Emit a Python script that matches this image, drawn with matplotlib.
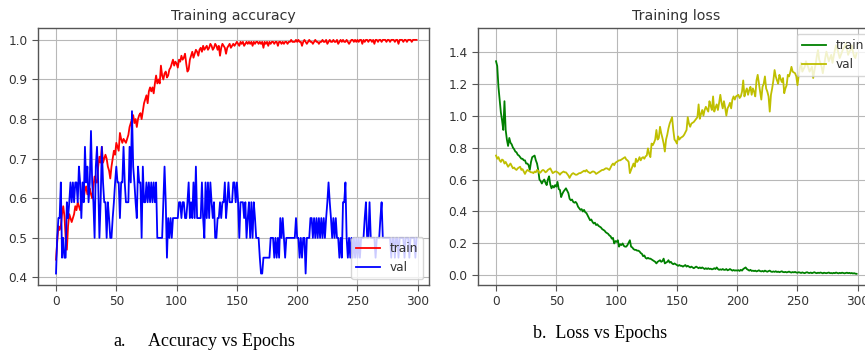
#!/usr/bin/env python3
# -*- coding: utf-8 -*-
"""
Training curves (accuracy / loss) for 300 epochs, train vs val.
"""

import numpy as np
import matplotlib
matplotlib.use("Agg")
import matplotlib.pyplot as plt

# =======================
# DATA
# =======================
train_acc = [
    0.445, 0.49, 0.53, 0.52, 0.53, 0.56, 0.58, 0.555, 0.50, 0.47,
    0.53, 0.56, 0.55, 0.54, 0.55, 0.56, 0.58, 0.57, 0.59, 0.58,
    0.57, 0.59, 0.61, 0.60, 0.62, 0.63, 0.61, 0.62, 0.625, 0.61,
    0.60, 0.63, 0.655, 0.64, 0.64, 0.68, 0.705, 0.69, 0.73, 0.69,
    0.70, 0.71, 0.70, 0.68, 0.67, 0.65, 0.68, 0.70, 0.72, 0.71,
    0.74, 0.73, 0.72, 0.765, 0.75, 0.74, 0.75, 0.745, 0.74, 0.75,
    0.76, 0.78, 0.79, 0.80, 0.81, 0.79, 0.80, 0.78, 0.80, 0.81,
    0.815, 0.80, 0.82, 0.84, 0.85, 0.86, 0.84, 0.87, 0.88, 0.87,
    0.88, 0.865, 0.89, 0.91, 0.89, 0.90, 0.89, 0.935, 0.91, 0.90,
    0.915, 0.92, 0.905, 0.91, 0.925, 0.93, 0.94, 0.95, 0.935, 0.945,
    0.94, 0.93, 0.95, 0.945, 0.96, 0.95, 0.955, 0.965, 0.94, 0.92,
    0.925, 0.95, 0.96, 0.97, 0.955, 0.965, 0.975, 0.97, 0.96, 0.975,
    0.98, 0.97, 0.985, 0.975, 0.98, 0.985, 0.975, 0.98, 0.99, 0.985,
    0.975, 0.98, 0.99, 0.985, 0.975, 0.985, 0.96, 0.98, 0.99, 0.985,
    0.98, 0.965, 0.98, 0.985, 0.99, 0.98, 0.985, 0.99, 0.985, 0.99,
    0.995, 0.99, 0.985, 0.995, 0.99, 0.995, 0.985, 0.99, 0.995, 0.99,
    0.995, 0.99, 0.995, 0.985, 0.995, 0.99, 0.995, 0.995, 0.99, 0.995,
    0.99, 0.995, 0.98, 0.995, 0.99, 0.995, 0.985, 0.995, 0.99, 0.995,
    0.995, 0.99, 0.995, 0.995, 0.985, 0.995, 0.995, 0.99, 0.995, 0.99,
    0.995, 0.995, 0.99, 0.995, 0.995, 1.0, 0.995, 0.995, 0.995, 1.0,
    0.995, 1.0, 0.995, 0.995, 0.985, 0.995, 1.0, 0.995, 0.99, 0.995,
    1.0, 0.995, 0.995, 0.99, 0.995, 1.0, 0.995, 0.995, 0.99, 0.995,
    0.995, 1.0, 0.995, 0.995, 1.0, 0.99, 0.995, 1.0, 0.995, 0.995,
    1.0, 0.995, 0.995, 1.0, 0.99, 0.995, 1.0, 0.995, 1.0, 0.995,
    0.995, 1.0, 0.995, 0.99, 0.995, 1.0, 1.0, 0.995, 1.0, 0.995,
    1.0, 0.995, 1.0, 1.0, 0.99, 1.0, 0.995, 1.0, 1.0, 0.995,
    1.0, 1.0, 0.995, 1.0, 0.99, 1.0, 1.0, 0.995, 1.0, 1.0,
    0.995, 1.0, 1.0, 1.0, 0.995, 1.0, 1.0, 0.995, 1.0, 1.0,
    1.0, 0.995, 1.0, 1.0, 0.99, 1.0, 1.0, 1.0, 0.995, 1.0,
    1.0, 0.995, 1.0, 1.0, 1.0, 0.995, 1.0, 1.0, 1.0, 1.0,
]

val_acc = [
    0.41, 0.50, 0.55, 0.55, 0.64, 0.45, 0.50, 0.45, 0.45, 0.59,
    0.55, 0.59, 0.64, 0.59, 0.64, 0.59, 0.64, 0.64, 0.59, 0.68,
    0.64, 0.55, 0.64, 0.59, 0.73, 0.64, 0.68, 0.59, 0.64, 0.77,
    0.64, 0.59, 0.50, 0.68, 0.73, 0.64, 0.50, 0.59, 0.73, 0.64,
    0.59, 0.59, 0.50, 0.59, 0.55, 0.50, 0.50, 0.55, 0.59, 0.64,
    0.68, 0.64, 0.64, 0.55, 0.64, 0.64, 0.73, 0.64, 0.59, 0.59,
    0.59, 0.73, 0.64, 0.82, 0.68, 0.64, 0.59, 0.55, 0.68, 0.64,
    0.64, 0.50, 0.68, 0.59, 0.59, 0.64, 0.59, 0.64, 0.59, 0.64,
    0.59, 0.64, 0.59, 0.64, 0.50, 0.50, 0.50, 0.50, 0.50, 0.59,
    0.68, 0.59, 0.45, 0.55, 0.50, 0.55, 0.50, 0.55, 0.55, 0.55,
    0.55, 0.55, 0.59, 0.59, 0.55, 0.59, 0.59, 0.55, 0.55, 0.59,
    0.64, 0.55, 0.59, 0.55, 0.64, 0.55, 0.68, 0.55, 0.55, 0.55,
    0.55, 0.64, 0.55, 0.50, 0.64, 0.55, 0.64, 0.55, 0.64, 0.59,
    0.55, 0.59, 0.50, 0.50, 0.55, 0.55, 0.59, 0.55, 0.59, 0.59,
    0.64, 0.55, 0.59, 0.64, 0.59, 0.59, 0.59, 0.64, 0.64, 0.59,
    0.64, 0.59, 0.50, 0.59, 0.59, 0.59, 0.55, 0.59, 0.50, 0.55,
    0.59, 0.50, 0.59, 0.50, 0.59, 0.55, 0.50, 0.50, 0.50, 0.45,
    0.41, 0.41, 0.45, 0.45, 0.45, 0.45, 0.45, 0.45, 0.50, 0.50,
    0.50, 0.45, 0.50, 0.45, 0.50, 0.45, 0.55, 0.50, 0.55, 0.50,
    0.45, 0.50, 0.50, 0.50, 0.50, 0.50, 0.50, 0.50, 0.50, 0.55,
    0.50, 0.50, 0.45, 0.50, 0.45, 0.50, 0.50, 0.41, 0.50, 0.50,
    0.50, 0.55, 0.55, 0.50, 0.55, 0.50, 0.55, 0.50, 0.55, 0.50,
    0.55, 0.50, 0.55, 0.50, 0.55, 0.59, 0.64, 0.59, 0.55, 0.50,
    0.55, 0.50, 0.55, 0.50, 0.50, 0.45, 0.50, 0.45, 0.59, 0.59,
    0.64, 0.50, 0.45, 0.50, 0.45, 0.50, 0.45, 0.50, 0.45, 0.50,
    0.45, 0.50, 0.45, 0.50, 0.50, 0.50, 0.55, 0.59, 0.50, 0.50,
    0.59, 0.50, 0.50, 0.50, 0.50, 0.45, 0.50, 0.50, 0.50, 0.55,
    0.59, 0.50, 0.50, 0.50, 0.50, 0.50, 0.50, 0.50, 0.45, 0.50,
    0.50, 0.45, 0.50, 0.50, 0.45, 0.50, 0.50, 0.50, 0.50, 0.45,
    0.50, 0.50, 0.50, 0.45, 0.50, 0.50, 0.50, 0.50, 0.45, 0.50,
]

train_loss = [
    1.34, 1.31, 1.18, 1.10, 1.02, 0.97, 0.91, 1.09, 0.91, 0.85,
    0.81, 0.86, 0.83, 0.82, 0.80, 0.79, 0.775, 0.77, 0.755, 0.75,
    0.74, 0.73, 0.73, 0.72, 0.72, 0.70, 0.70, 0.69, 0.66, 0.71,
    0.74, 0.745, 0.75, 0.72, 0.70, 0.66, 0.60, 0.59, 0.575, 0.59,
    0.60, 0.58, 0.565, 0.60, 0.62, 0.57, 0.545, 0.56, 0.55, 0.565,
    0.555, 0.585, 0.54, 0.535, 0.49, 0.51, 0.525, 0.535, 0.545, 0.53,
    0.515, 0.48, 0.47, 0.475, 0.46, 0.455, 0.46, 0.45, 0.43, 0.42,
    0.41, 0.415, 0.40, 0.41, 0.395, 0.39, 0.375, 0.36, 0.345, 0.35,
    0.335, 0.325, 0.33, 0.315, 0.32, 0.31, 0.305, 0.30, 0.29, 0.285,
    0.28, 0.27, 0.265, 0.26, 0.25, 0.245, 0.23, 0.235, 0.20, 0.215,
    0.21, 0.22, 0.18, 0.195, 0.19, 0.20, 0.185, 0.18, 0.18, 0.19,
    0.205, 0.22, 0.18, 0.175, 0.165, 0.16, 0.16, 0.155, 0.155, 0.15,
    0.14, 0.135, 0.12, 0.125, 0.11, 0.105, 0.11, 0.105, 0.105, 0.10,
    0.095, 0.09, 0.085, 0.075, 0.085, 0.09, 0.095, 0.085, 0.09, 0.105,
    0.075, 0.08, 0.085, 0.095, 0.08, 0.085, 0.075, 0.07, 0.075, 0.07,
    0.065, 0.06, 0.065, 0.06, 0.06, 0.055, 0.06, 0.065, 0.055, 0.06,
    0.055, 0.05, 0.055, 0.05, 0.045, 0.05, 0.055, 0.05, 0.045, 0.05,
    0.045, 0.05, 0.045, 0.04, 0.045, 0.04, 0.045, 0.04, 0.042, 0.038,
    0.04, 0.045, 0.04, 0.05, 0.04, 0.035, 0.038, 0.035, 0.04, 0.035,
    0.035, 0.04, 0.032, 0.035, 0.04, 0.035, 0.03, 0.034, 0.03, 0.032,
    0.03, 0.033, 0.028, 0.035, 0.03, 0.04, 0.045, 0.05, 0.04, 0.035,
    0.03, 0.035, 0.028, 0.03, 0.027, 0.03, 0.025, 0.028, 0.032, 0.027,
    0.025, 0.028, 0.024, 0.03, 0.026, 0.023, 0.027, 0.03, 0.024, 0.022,
    0.025, 0.022, 0.026, 0.021, 0.024, 0.02, 0.023, 0.026, 0.021, 0.02,
    0.022, 0.019, 0.021, 0.024, 0.02, 0.018, 0.021, 0.019, 0.022, 0.018,
    0.017, 0.02, 0.018, 0.015, 0.019, 0.016, 0.014, 0.018, 0.02, 0.016,
    0.015, 0.018, 0.014, 0.017, 0.02, 0.016, 0.014, 0.017, 0.015, 0.018,
    0.016, 0.013, 0.017, 0.015, 0.014, 0.016, 0.018, 0.014, 0.015, 0.013,
    0.016, 0.014, 0.018, 0.015, 0.013, 0.016, 0.014, 0.017, 0.015, 0.013,
    0.015, 0.017, 0.014, 0.016, 0.013, 0.015, 0.012, 0.014, 0.011, 0.01,
]

val_loss = [
    0.75, 0.73, 0.74, 0.72, 0.71, 0.725, 0.72, 0.70, 0.71, 0.695,
    0.68, 0.69, 0.70, 0.685, 0.67, 0.675, 0.665, 0.66, 0.67, 0.675,
    0.68, 0.66, 0.665, 0.65, 0.635, 0.65, 0.66, 0.655, 0.65, 0.645,
    0.645, 0.64, 0.65, 0.645, 0.66, 0.655, 0.64, 0.645, 0.655, 0.66,
    0.655, 0.645, 0.65, 0.66, 0.665, 0.67, 0.655, 0.64, 0.645, 0.65,
    0.65, 0.645, 0.64, 0.63, 0.64, 0.645, 0.65, 0.645, 0.645, 0.635,
    0.625, 0.61, 0.625, 0.635, 0.64, 0.635, 0.63, 0.63, 0.635, 0.64,
    0.64, 0.645, 0.65, 0.655, 0.65, 0.66, 0.65, 0.645, 0.64, 0.645,
    0.65, 0.65, 0.645, 0.635, 0.64, 0.645, 0.65, 0.655, 0.66, 0.66,
    0.665, 0.67, 0.67, 0.665, 0.66, 0.675, 0.69, 0.70, 0.69, 0.705,
    0.71, 0.715, 0.72, 0.72, 0.725, 0.73, 0.735, 0.74, 0.725, 0.72,
    0.71, 0.64, 0.66, 0.68, 0.70, 0.68, 0.73, 0.71, 0.72, 0.74,
    0.72, 0.735, 0.74, 0.73, 0.745, 0.75, 0.795, 0.76, 0.74, 0.825,
    0.815, 0.83, 0.85, 0.91, 0.85, 0.86, 0.93, 0.89, 0.86, 0.825,
    0.775, 0.85, 0.88, 0.92, 0.95, 0.97, 0.99, 0.91, 0.85, 0.84,
    0.825, 0.87, 0.85, 0.86, 0.865, 0.87, 0.88, 0.895, 0.91, 0.99,
    0.95, 0.93, 0.95, 0.955, 0.96, 0.97, 0.98, 0.99, 1.07, 0.98,
    1.01, 1.035, 1.00, 1.035, 1.055, 1.04, 1.025, 1.09, 1.06, 1.035,
    1.12, 1.025, 1.05, 1.07, 1.035, 1.08, 1.13, 1.08, 1.045, 1.09,
    1.05, 1.00, 1.045, 1.06, 1.08, 1.045, 1.10, 1.12, 1.10, 1.12,
    1.125, 1.13, 1.11, 1.12, 1.15, 1.22, 1.12, 1.15, 1.17, 1.13,
    1.16, 1.18, 1.13, 1.17, 1.15, 1.12, 1.22, 1.255, 1.20, 1.15,
    1.10, 1.18, 1.20, 1.245, 1.17, 1.15, 1.12, 1.025, 1.13, 1.17,
    1.22, 1.285, 1.245, 1.22, 1.20, 1.255, 1.23, 1.21, 1.235, 1.14,
    1.17, 1.19, 1.255, 1.245, 1.27, 1.305, 1.275, 1.27, 1.265, 1.245,
    1.19, 1.25, 1.30, 1.33, 1.275, 1.29, 1.305, 1.34, 1.32, 1.30,
    1.275, 1.29, 1.305, 1.235, 1.28, 1.32, 1.37, 1.41, 1.35, 1.33,
    1.305, 1.265, 1.31, 1.36, 1.40, 1.37, 1.34, 1.36, 1.38, 1.33,
    1.37, 1.41, 1.44, 1.42, 1.39, 1.36, 1.38, 1.40, 1.42, 1.43,
    1.45, 1.42, 1.38, 1.40, 1.41, 1.44, 1.40, 1.37, 1.36, 1.39,
]

TICK_FS = 8.7
TITLE_FS = 10.2
TXT = "#333333"


def style_axes(ax):
    ax.grid(True, color="#b8b8b8", linewidth=0.8)
    ax.set_axisbelow(True)
    for s in ax.spines.values():
        s.set_color("#555555")
        s.set_linewidth(1.0)
    ax.tick_params(labelsize=TICK_FS, colors="#555555", labelcolor=TXT,
                   length=4, width=0.8)
    ax.set_xticks([0, 50, 100, 150, 200, 250, 300])


def main():
    epochs = np.arange(len(train_acc))

    fig = plt.figure(figsize=(8.65, 3.54), dpi=100)

    # ---- accuracy
    ax1 = fig.add_axes([38 / 865, 0.1949, 391 / 865, 0.726])
    ax1.plot(epochs, train_acc, color="r", lw=1.3, label="train")
    ax1.plot(epochs, val_acc, color="b", lw=1.3, label="val")
    ax1.set_xlim(-14.93, 309.3)
    ax1.set_ylim(0.381, 1.030)
    ax1.set_yticks([0.4, 0.5, 0.6, 0.7, 0.8, 0.9, 1.0])
    style_axes(ax1)
    ax1.set_title("Training accuracy", fontsize=TITLE_FS, color=TXT)
    leg = ax1.legend(loc="lower right", fontsize=TICK_FS)
    for t in leg.get_texts():
        t.set_color(TXT)

    # ---- loss (right frame runs past the figure edge)
    ax2 = fig.add_axes([478 / 865, 0.1949, 396.6 / 865, 0.726])
    ax2.plot(epochs, train_loss, color="g", lw=1.3, label="train")
    ax2.plot(epochs, val_loss, color="y", lw=1.3, label="val")
    ax2.set_xlim(-14.95, 313.95)
    ax2.set_ylim(-0.06, 1.548)
    ax2.set_yticks([0.0, 0.2, 0.4, 0.6, 0.8, 1.0, 1.2, 1.4])
    style_axes(ax2)
    ax2.set_title("Training loss", fontsize=TITLE_FS, color=TXT)
    leg = ax2.legend(loc="upper right", fontsize=TICK_FS)
    for t in leg.get_texts():
        t.set_color(TXT)

    # ---- captions
    cap = dict(family="Liberation Serif", fontsize=13, color="black", va="center")
    fig.text(113 / 865, 1 - 341 / 354, "a.", ha="left", **cap)
    fig.text(148 / 865, 1 - 341 / 354, "Accuracy vs Epochs", ha="left", **cap)
    fig.text(533 / 865, 1 - 333 / 354, "b.  Loss vs Epochs", ha="left", **cap)

    fig.savefig("out.png", dpi=100)


if __name__ == "__main__":
    main()
